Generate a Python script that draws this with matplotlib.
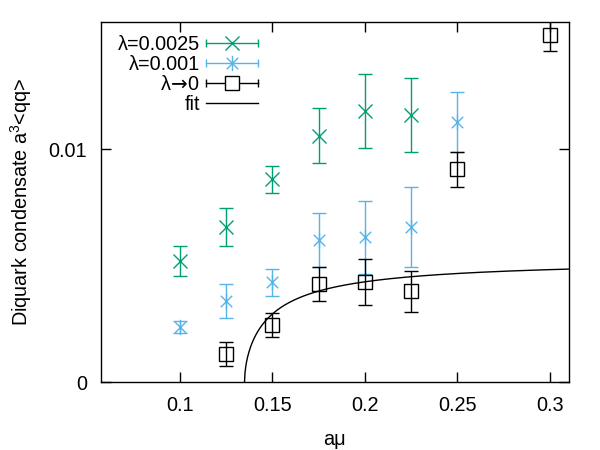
import numpy as np
import matplotlib
matplotlib.use("Agg")
import matplotlib.pyplot as plt
from matplotlib.lines import Line2D
from matplotlib.path import Path
from matplotlib.container import ErrorbarContainer
from matplotlib.legend_handler import HandlerBase

plt.rcParams['font.family'] = ['Liberation Sans', 'DejaVu Sans']
plt.rcParams['mathtext.fontset'] = 'custom'
plt.rcParams['mathtext.rm'] = 'Liberation Sans'
plt.rcParams['mathtext.sf'] = 'DejaVu Sans'
plt.rcParams['font.size'] = 14.3

# lambda = 0.0025
mu_a = [0.1, 0.125, 0.15, 0.175, 0.2, 0.225]
val_a = [0.00519, 0.00665, 0.00871, 0.01056, 0.01163, 0.01146]
err_a = [0.00066, 0.00080, 0.00058, 0.00118, 0.00157, 0.00160]

# lambda = 0.001
mu_b = [0.1, 0.125, 0.15, 0.175, 0.2, 0.225, 0.25]
val_b = [0.00236, 0.00348, 0.00429, 0.00609, 0.00622, 0.00665, 0.01116]
err_b = [0.00024, 0.00073, 0.00058, 0.00116, 0.00157, 0.00170, 0.00129]

# lambda -> 0 extrapolation
mu_c = [0.125, 0.15, 0.175, 0.2, 0.225, 0.25, 0.3]
val_c = [0.00120, 0.00245, 0.00420, 0.00429, 0.00390, 0.00914, 0.01490]
err_c = [0.00050, 0.00052, 0.00073, 0.00100, 0.00088, 0.00075, 0.00070]

# fit: A * ((mu - mu0) / (mu - mu0 + b))^q
fit_A = 0.00528
fit_mu0 = 0.135
fit_b = 0.03
fit_q = 0.54

green = '#009e73'
blue = '#56b4e9'

# asterisk marker: vertical bar plus an x
star = Path([(0, -1), (0, 1), (-0.75, -0.75), (0.75, 0.75), (-0.75, 0.75), (0.75, -0.75)],
            [Path.MOVETO, Path.LINETO] * 3)


class ErrHandler(HandlerBase):
    # gnuplot-like key sample: horizontal bar with caps, marker in the middle
    def create_artists(self, legend, orig_handle, xdescent, ydescent, width, height, fontsize, trans):
        ln = orig_handle.lines[0]
        c = ln.get_markeredgecolor()
        y = height / 2 - ydescent
        x0, x1 = -xdescent, width - xdescent
        bar = Line2D([x0, x1], [y, y], color=c, lw=1)
        caps = Line2D([x0, x1], [y, y], ls='', marker='|', ms=6, mew=1, color=c)
        mk = Line2D([(x0 + x1) / 2], [y], ls='', marker=ln.get_marker(), ms=ln.get_markersize(),
                    mew=ln.get_markeredgewidth(), mec=c, mfc='white')
        for a in (bar, caps, mk):
            a.set_transform(trans)
        return [bar, caps, mk]


fig, ax = plt.subplots(figsize=(6, 4.5), dpi=100)
fig.subplots_adjust(left=0.168, right=0.948, top=0.951, bottom=0.151)

e1 = ax.errorbar(mu_a, val_a, yerr=err_a, fmt='', ls='', marker='x', ms=10, mew=1, color=green,
                 elinewidth=1, capsize=5, capthick=1, label='λ=0.0025')
e2 = ax.errorbar(mu_b, val_b, yerr=err_b, fmt='', ls='', marker=star, ms=11, mew=1, color=blue,
                 mfc='none', elinewidth=1, capsize=5, capthick=1, label='λ=0.001')
e3 = ax.errorbar(mu_c, val_c, yerr=err_c, fmt='', ls='', marker='s', ms=9.5, mew=1, color='black',
                 mfc='none', elinewidth=1, capsize=5, capthick=1,
                 label='λ$\\!\\mathsf{\\rightarrow}\\!$0')

xf = np.linspace(fit_mu0, 0.31, 800)
d = xf - fit_mu0
yf = fit_A * (d / (d + fit_b)) ** fit_q
fit_line, = ax.plot(xf, yf, color='black', lw=1, label='fit')

ax.set_xlim(0.0573, 0.3103)
ax.set_ylim(0, 0.01545)
ax.set_xticks([0.1, 0.15, 0.2, 0.25, 0.3])
ax.set_xticklabels(['0.1', '0.15', '0.2', '0.25', '0.3'])
ax.set_yticks([0, 0.01])
ax.set_yticklabels(['0', '0.01'])
ax.tick_params(direction='in', top=True, right=True, length=7, width=1, pad=10)
for s in ax.spines.values():
    s.set_linewidth(1)

ax.set_xlabel('aμ', labelpad=11)
ax.set_ylabel('Diquark condensate a$^3$<qq>', labelpad=10)

ax.legend(handles=[e1, e2, e3, fit_line], loc='upper left', bbox_to_anchor=(0.009, 1),
          frameon=False, markerfirst=False, handlelength=2.6, handletextpad=0.3,
          borderaxespad=0.35, labelspacing=0.05, borderpad=0.3,
          handler_map={ErrorbarContainer: ErrHandler()})

fig.savefig('out.png', dpi=100)
